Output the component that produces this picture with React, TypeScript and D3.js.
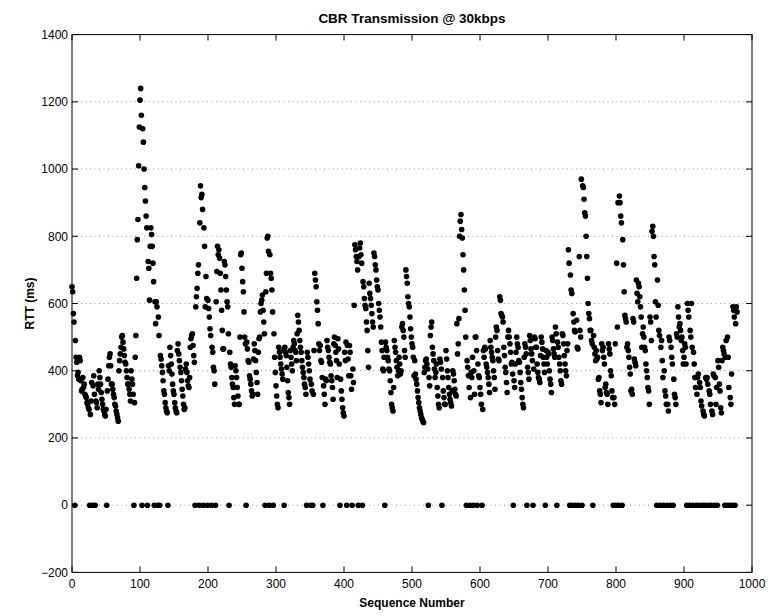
import React from 'react';
import * as d3 from 'd3';

// RTT (ms) per sequence number; 0 = lost packet. Each block starts at the given sequence number.
const rtt000 = [
  650, 635, 570, 545, 0, 490, 440, 425, 385, 395,
  375, 440, 430, 370, 340, 345, 380, 350, 360, 330,
  325, 320, 305, 300, 290, 285, 0, 270, 310, 365,
  0, 355, 385, 330, 0, 310, 305, 290, 360, 345,
  400, 380, 360, 335, 315, 300, 285, 280, 270, 265,
  285, 0, 340, 375, 415, 440, 450, 415, 360, 360,
  345, 330, 320, 300, 295, 280, 270, 260, 250, 400,
  430, 450, 470, 500, 505, 485, 465, 445, 425, 420,
  400, 380, 360, 360, 345, 330, 310, 400, 375, 360,
  330, 0, 305, 440, 505, 675, 790, 850, 1010, 1125,
];
const rtt100 = [
  1205, 1240, 1160, 0, 1120, 1080, 1000, 945, 905, 860,
  825, 0, 725, 705, 610, 770, 825, 805, 770, 720,
  665, 0, 605, 540, 605, 590, 0, 560, 505, 0,
  445, 435, 415, 395, 370, 340, 330, 305, 290, 280,
  275, 0, 415, 400, 470, 445, 420, 390, 360, 340,
  330, 305, 290, 280, 275, 460, 480, 450, 430, 410,
  395, 370, 345, 325, 300, 285, 290, 405, 420, 395,
  370, 355, 350, 380, 470, 495, 505, 510, 475, 445,
  425, 0, 590, 620, 645, 690, 715, 0, 840, 950,
  915, 925, 880, 0, 825, 770, 590, 680, 615, 0,
];
const rtt200 = [
  610, 585, 560, 525, 505, 0, 470, 455, 410, 400,
  360, 0, 605, 695, 770, 745, 760, 735, 690, 640,
  580, 520, 465, 465, 725, 715, 680, 640, 605, 590,
  510, 0, 455, 420, 410, 380, 360, 350, 320, 300,
  415, 400, 380, 350, 325, 300, 300, 500, 745, 750,
  705, 665, 635, 575, 500, 480, 0, 485, 465, 430,
  425, 385, 375, 360, 340, 325, 330, 435, 480, 460,
  430, 395, 365, 330, 455, 495, 500, 575, 600, 610,
  625, 580, 545, 510, 0, 635, 690, 795, 800, 755,
  0, 745, 690, 675, 640, 575, 0, 510, 440, 395,
];
const rtt300 = [
  355, 325, 300, 290, 470, 455, 440, 420, 405, 390,
  375, 460, 0, 470, 455, 445, 410, 370, 335, 320,
  300, 460, 440, 420, 400, 470, 490, 480, 460, 455,
  430, 510, 565, 545, 520, 490, 470, 455, 430, 410,
  395, 380, 360, 350, 330, 0, 455, 440, 420, 400,
  375, 0, 360, 340, 0, 330, 460, 690, 670, 650,
  605, 580, 540, 480, 460, 475, 430, 425, 380, 0,
  355, 330, 300, 375, 370, 490, 470, 460, 440, 425,
  420, 385, 370, 350, 315, 480, 500, 475, 455, 430,
  380, 495, 465, 420, 0, 375, 340, 315, 290, 275,
];
const rtt400 = [
  265, 455, 430, 485, 0, 475, 435, 385, 475, 455,
  385, 345, 0, 405, 365, 595, 775, 760, 740, 725,
  700, 0, 740, 765, 780, 745, 720, 0, 665, 650,
  615, 595, 585, 545, 520, 460, 410, 660, 630, 615,
  595, 570, 545, 530, 750, 740, 715, 700, 670, 650,
  640, 600, 580, 560, 530, 485, 460, 405, 400, 440,
  0, 485, 470, 460, 440, 430, 405, 400, 370, 335,
  300, 290, 280, 350, 490, 470, 455, 430, 410, 385,
  400, 440, 420, 390, 400, 530, 540, 520, 500, 460,
  440, 700, 680, 660, 620, 600, 590, 560, 525, 500,
];
const rtt500 = [
  480, 470, 440, 385, 430, 390, 375, 360, 340, 320,
  305, 290, 280, 270, 260, 255, 250, 245, 395, 410,
  430, 435, 420, 405, 0, 380, 355, 505, 530, 545,
  470, 450, 430, 405, 380, 395, 420, 350, 325, 300,
  290, 435, 425, 405, 0, 380, 340, 320, 300, 300,
  460, 435, 400, 380, 350, 330, 315, 305, 295, 340,
  400, 390, 370, 345, 330, 325, 540, 450, 480, 555,
  800, 845, 865, 820, 795, 745, 700, 640, 580, 500,
  0, 430, 410, 385, 350, 0, 320, 395, 380, 440,
  0, 400, 330, 500, 500, 460, 0, 420, 385, 380,
];
const rtt600 = [
  350, 330, 300, 0, 285, 460, 440, 470, 465, 420,
  410, 395, 380, 360, 335, 490, 470, 455, 440, 430,
  400, 380, 345, 500, 530, 520, 460, 435, 430, 620,
  610, 570, 565, 560, 545, 470, 445, 410, 395, 365,
  335, 500, 520, 500, 480, 455, 420, 425, 390, 0,
  370, 350, 420, 455, 500, 480, 470, 430, 425, 395,
  365, 345, 320, 300, 290, 440, 480, 470, 450, 0,
  410, 395, 375, 505, 490, 465, 450, 430, 0, 405,
  500, 495, 470, 470, 420, 395, 380, 375, 365, 445,
  500, 485, 465, 440, 420, 395, 0, 460, 440, 420,
];
const rtt700 = [
  455, 450, 400, 375, 360, 335, 500, 490, 465, 450,
  440, 530, 510, 0, 485, 470, 440, 420, 400, 370,
  360, 510, 505, 480, 445, 420, 400, 385, 460, 480,
  760, 720, 0, 685, 640, 630, 0, 570, 545, 520,
  515, 0, 550, 470, 465, 0, 740, 520, 500, 970,
  0, 950, 945, 910, 870, 860, 800, 740, 675, 600,
  570, 555, 520, 520, 490, 480, 0, 505, 470, 450,
  430, 460, 435, 440, 375, 380, 340, 330, 305, 480,
  460, 470, 440, 420, 350, 360, 335, 330, 300, 480,
  465, 450, 400, 385, 340, 320, 0, 320, 300, 480,
];
const rtt800 = [
  0, 720, 530, 900, 0, 920, 900, 860, 840, 0,
  790, 715, 635, 565, 555, 545, 470, 480, 460, 440,
  410, 390, 340, 345, 330, 555, 545, 435, 425, 415,
  670, 630, 605, 660, 650, 620, 590, 560, 470, 510,
  530, 500, 470, 460, 420, 400, 380, 350, 340, 300,
  560, 545, 490, 815, 830, 800, 740, 715, 605, 560,
  0, 670, 595, 520, 505, 0, 470, 490, 430, 380,
  0, 400, 340, 325, 300, 0, 300, 280, 500, 490,
  0, 470, 440, 420, 0, 375, 330, 320, 300, 510,
  500, 590, 560, 530, 540, 520, 490, 500, 460, 420,
];
const rtt900 = [
  440, 480, 470, 420, 0, 600, 580, 560, 0, 520,
  500, 600, 470, 0, 455, 420, 380, 350, 0, 330,
  380, 390, 0, 365, 350, 310, 295, 0, 280, 270,
  265, 0, 380, 375, 380, 360, 0, 340, 330, 300,
  0, 280, 270, 390, 385, 0, 380, 300, 350, 0,
  430, 410, 360, 340, 290, 275, 430, 470, 460, 450,
  0, 440, 490, 0, 500, 440, 350, 0, 320, 300,
  390, 0, 590, 580, 560, 0, 540, 590, 575,
];

const blocks = [
  { start: 0, values: rtt000 },
  { start: 100, values: rtt100 },
  { start: 200, values: rtt200 },
  { start: 300, values: rtt300 },
  { start: 400, values: rtt400 },
  { start: 500, values: rtt500 },
  { start: 600, values: rtt600 },
  { start: 700, values: rtt700 },
  { start: 800, values: rtt800 },
  { start: 900, values: rtt900 },
];

const xTicks = [0, 100, 200, 300, 400, 500, 600, 700, 800, 900, 1000];
const yTicks = [-200, 0, 200, 400, 600, 800, 1000, 1200, 1400];
const titleText = 'CBR Transmission @ 30kbps';
const xLabelText = 'Sequence Number';
const yLabelText = 'RTT (ms)';

const W = 775;
const H = 616;
const L = 72;
const R = 752;
const T = 34.6;
const B = 572.4;
const TICK = 6;
const FONT = 'Liberation Sans, Arial, Helvetica, sans-serif';

export default function App() {
  const x = d3.scaleLinear().domain([0, 1000]).range([L, R]);
  const y = d3.scaleLinear().domain([-200, 1400]).range([B, T]);
  const points = blocks.flatMap((b) => b.values.map((v, i) => ({ seq: b.start + i, v })));

  return (
    <svg
      width={W}
      height={H}
      style={{ position: 'absolute', left: 0, top: 0, background: '#fff' }}
      fontFamily={FONT}
    >
      <rect x={0} y={0} width={W} height={H} fill="#fff" />
      {yTicks.slice(1, -1).map((t) => (
        <line
          key={'g' + t}
          x1={L}
          x2={R}
          y1={y(t)}
          y2={y(t)}
          stroke="#444"
          strokeWidth={0.6}
          strokeDasharray="1 3.5"
        />
      ))}
      {points.map((p, i) => (
        <circle key={i} cx={x(p.seq)} cy={y(p.v)} r={2.8} fill="#000" />
      ))}
      <rect x={L} y={T} width={R - L} height={B - T} fill="none" stroke="#000" strokeWidth={1} />
      {xTicks.map((t) => (
        <g key={'x' + t}>
          <line x1={x(t)} x2={x(t)} y1={B} y2={B - TICK} stroke="#000" />
          <line x1={x(t)} x2={x(t)} y1={T} y2={T + TICK} stroke="#000" />
          <text x={x(t)} y={B + 16} textAnchor="middle" fontSize={12} fill="#000">
            {t}
          </text>
        </g>
      ))}
      {yTicks.map((t) => (
        <g key={'y' + t}>
          <line x1={L} x2={L + TICK} y1={y(t)} y2={y(t)} stroke="#000" />
          <line x1={R} x2={R - TICK} y1={y(t)} y2={y(t)} stroke="#000" />
          <text x={L - 4} y={y(t) + 4.3} textAnchor="end" fontSize={12} fill="#000">
            {t === -200 ? '\u2212200' : t}
          </text>
        </g>
      ))}
      <text x={(L + R) / 2} y={23} textAnchor="middle" fontSize={13.5} fontWeight="bold" fill="#000">
        {titleText}
      </text>
      <text x={(L + R) / 2} y={607} textAnchor="middle" fontSize={12} fontWeight="bold" fill="#000">
        {xLabelText}
      </text>
      <text
        transform={`translate(34,${(T + B) / 2}) rotate(-90)`}
        textAnchor="middle"
        fontSize={12}
        fontWeight="bold"
        fill="#000"
      >
        {yLabelText}
      </text>
    </svg>
  );
}
